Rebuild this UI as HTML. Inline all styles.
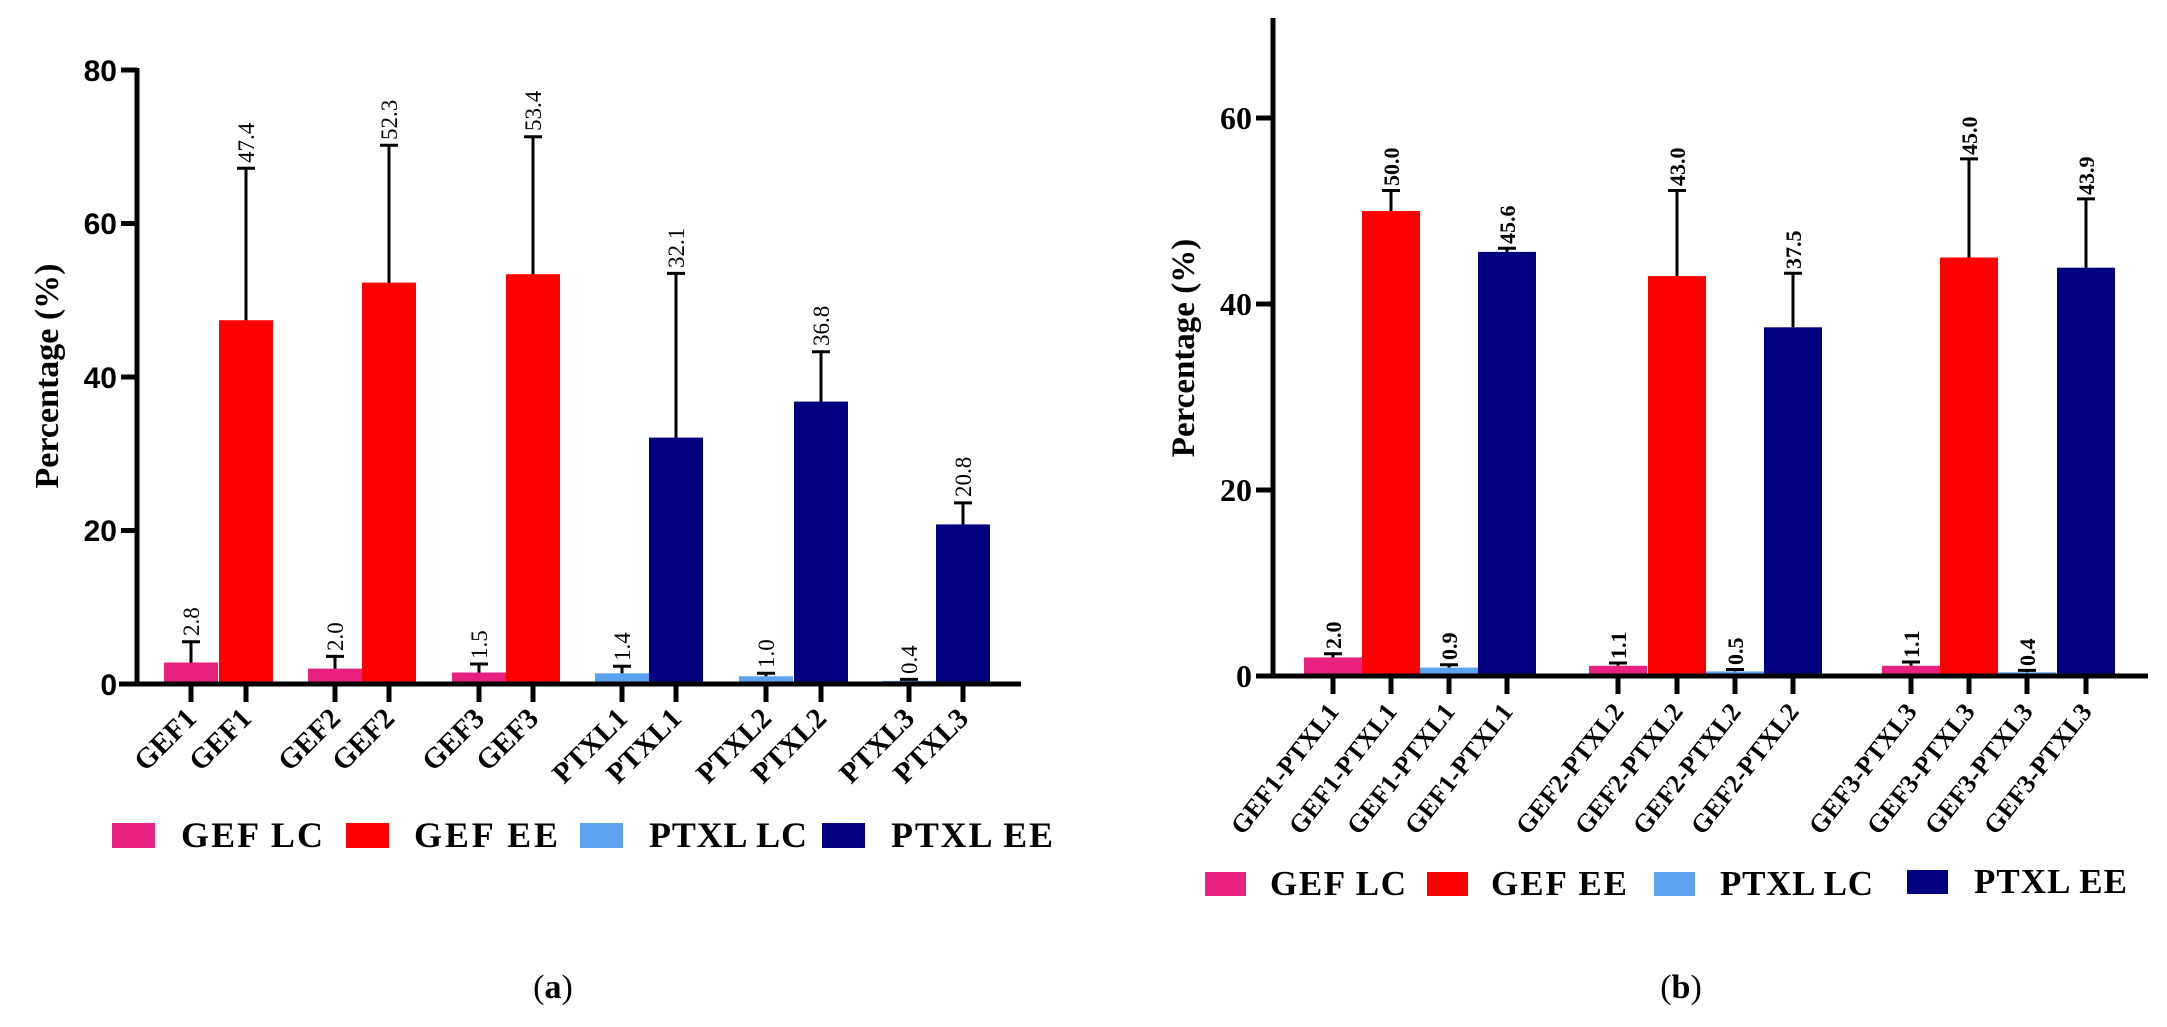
<!DOCTYPE html>
<html><head><meta charset="utf-8"><style>
html,body{margin:0;padding:0;background:#fff;}
svg{display:block;}
text{font-family:"Liberation Serif",serif;}
text.sans{font-family:"Liberation Sans",sans-serif;}
</style></head><body>
<svg width="2167" height="1027" viewBox="0 0 2167 1027" xmlns="http://www.w3.org/2000/svg">
<rect width="2167" height="1027" fill="#fff"/>

<!-- ============ LEFT CHART (a) ============ -->
<g>
<rect x="164" y="662.5" width="54" height="21.5" fill="#E8207F"/>
<rect x="219" y="320.2" width="54" height="363.8" fill="#FF0000"/>
<rect x="308" y="668.6" width="54" height="15.4" fill="#E8207F"/>
<rect x="362" y="282.6" width="54" height="401.4" fill="#FF0000"/>
<rect x="452" y="672.5" width="54" height="11.5" fill="#E8207F"/>
<rect x="506" y="274.2" width="54" height="409.8" fill="#FF0000"/>
<rect x="595" y="673.3" width="54" height="10.7" fill="#5BA3EE"/>
<rect x="649" y="437.6" width="54" height="246.4" fill="#000080"/>
<rect x="739" y="676.3" width="54" height="7.7" fill="#5BA3EE"/>
<rect x="794" y="401.6" width="54" height="282.4" fill="#000080"/>
<rect x="882" y="680.9" width="54" height="3.1" fill="#5BA3EE"/>
<rect x="936" y="524.4" width="54" height="159.6" fill="#000080"/>
<g stroke="#000" stroke-width="3" fill="none">
<path d="M191 662.5V641.8M182 641.8H200"/>
<path d="M246 320.2V168.2M237 168.2H255"/>
<path d="M335 668.6V656.4M326 656.4H344"/>
<path d="M389 282.6V145.2M380 145.2H398"/>
<path d="M479 672.5V664M470 664H488"/>
<path d="M533 274.2V136.8M524 136.8H542"/>
<path d="M622 673.3V666.3M613 666.3H631"/>
<path d="M676 437.6V273.4M667 273.4H685"/>
<path d="M766 676.3V673.3M757 673.3H775"/>
<path d="M821 401.6V351.7M812 351.7H830"/>
<path d="M909 680.9V679.4M900 679.4H918"/>
<path d="M963 524.4V502.9M954 502.9H972"/>
</g>
<g font-size="23" fill="#000">
<text transform="translate(199,636) rotate(-90)">2.8</text>
<text transform="translate(254,163) rotate(-90)">47.4</text>
<text transform="translate(343,651) rotate(-90)">2.0</text>
<text transform="translate(397,140) rotate(-90)">52.3</text>
<text transform="translate(487,659) rotate(-90)">1.5</text>
<text transform="translate(541,131) rotate(-90)">53.4</text>
<text transform="translate(630,661) rotate(-90)">1.4</text>
<text transform="translate(684,268) rotate(-90)">32.1</text>
<text transform="translate(774,668) rotate(-90)">1.0</text>
<text transform="translate(829,346) rotate(-90)">36.8</text>
<text transform="translate(917,674) rotate(-90)">0.4</text>
<text transform="translate(971,497) rotate(-90)">20.8</text>
</g>
<g stroke="#000" stroke-width="5" fill="none">
<path d="M137 68V686"/>
<path d="M119 684H1021"/>
<path d="M121 70H137M121 223.5H137M121 377H137M121 530.5H137M121 684H137"/>
<path d="M191 684V702M246 684V702M335 684V702M389 684V702M479 684V702M533 684V702M622 684V702M676 684V702M766 684V702M821 684V702M909 684V702M963 684V702"/>
</g>
<g font-weight="bold" font-size="30" text-anchor="end" fill="#000">
<text class="sans" x="117" y="81">80</text>
<text class="sans" x="117" y="234">60</text>
<text class="sans" x="117" y="388">40</text>
<text class="sans" x="117" y="541">20</text>
<text class="sans" x="117" y="695">0</text>
</g>
<text transform="translate(58,376) rotate(-90)" font-size="34" font-weight="bold" text-anchor="middle">Percentage (%)</text>
<g font-size="29" font-weight="bold" text-anchor="end">
<text transform="translate(198,720) rotate(-45)">GEF1</text>
<text transform="translate(253,720) rotate(-45)">GEF1</text>
<text transform="translate(342,720) rotate(-45)">GEF2</text>
<text transform="translate(396,720) rotate(-45)">GEF2</text>
<text transform="translate(486,720) rotate(-45)">GEF3</text>
<text transform="translate(540,720) rotate(-45)">GEF3</text>
<text transform="translate(629,720) rotate(-45)">PTXL1</text>
<text transform="translate(683,720) rotate(-45)">PTXL1</text>
<text transform="translate(773,720) rotate(-45)">PTXL2</text>
<text transform="translate(828,720) rotate(-45)">PTXL2</text>
<text transform="translate(916,720) rotate(-45)">PTXL3</text>
<text transform="translate(970,720) rotate(-45)">PTXL3</text>
</g>
<rect x="112" y="823" width="43" height="25" fill="#E8207F"/>
<rect x="346" y="823" width="43" height="25" fill="#FF0000"/>
<rect x="580" y="823" width="43" height="25" fill="#5BA3EE"/>
<rect x="822" y="823" width="43" height="25" fill="#000080"/>
<g font-size="36" font-weight="bold">
<text x="181" y="847" textLength="142">GEF LC</text>
<text x="414" y="847" textLength="144">GEF EE</text>
<text x="649" y="847" textLength="158">PTXL LC</text>
<text x="891" y="847" textLength="162">PTXL EE</text>
</g>
<text x="553" y="998" font-size="34" text-anchor="middle">(<tspan font-weight="bold">a</tspan>)</text>
</g>

<!-- ============ RIGHT CHART (b) ============ -->
<g>
<rect x="1304" y="657.4" width="58" height="18.6" fill="#E8207F"/>
<rect x="1362" y="211" width="58" height="465" fill="#FF0000"/>
<rect x="1420" y="667.6" width="58" height="8.4" fill="#5BA3EE"/>
<rect x="1478" y="251.9" width="58" height="424.1" fill="#000080"/>
<rect x="1589" y="665.8" width="58" height="10.2" fill="#E8207F"/>
<rect x="1648" y="276.1" width="58" height="399.9" fill="#FF0000"/>
<rect x="1706" y="671.4" width="58" height="4.6" fill="#5BA3EE"/>
<rect x="1764" y="327.3" width="58" height="348.7" fill="#000080"/>
<rect x="1882" y="665.8" width="58" height="10.2" fill="#E8207F"/>
<rect x="1940" y="257.5" width="58" height="418.5" fill="#FF0000"/>
<rect x="1998" y="672.3" width="58" height="3.7" fill="#5BA3EE"/>
<rect x="2057" y="267.7" width="58" height="408.3" fill="#000080"/>
<g stroke="#000" stroke-width="3" fill="none">
<path d="M1333 657.4V653.7M1324 653.7H1342"/>
<path d="M1391 211V190.5M1382 190.5H1400"/>
<path d="M1449 667.6V664.8M1440 664.8H1458"/>
<path d="M1507 251.9V248.2M1498 248.2H1516"/>
<path d="M1618 665.8V663M1609 663H1627"/>
<path d="M1677 276.1V190.5M1668 190.5H1686"/>
<path d="M1735 671.4V669.5M1726 669.5H1744"/>
<path d="M1793 327.3V273.3M1784 273.3H1802"/>
<path d="M1911 665.8V662M1902 662H1920"/>
<path d="M1969 257.5V158.9M1960 158.9H1978"/>
<path d="M2027 672.3V670.4M2018 670.4H2036"/>
<path d="M2086 267.7V198.9M2077 198.9H2095"/>
</g>
<g font-size="22" font-weight="bold">
<text transform="translate(1341,649) rotate(-90)">2.0</text>
<text transform="translate(1399,186) rotate(-90)">50.0</text>
<text transform="translate(1457,660) rotate(-90)">0.9</text>
<text transform="translate(1515,244) rotate(-90)">45.6</text>
<text transform="translate(1626,659) rotate(-90)">1.1</text>
<text transform="translate(1685,186) rotate(-90)">43.0</text>
<text transform="translate(1743,665) rotate(-90)">0.5</text>
<text transform="translate(1801,269) rotate(-90)">37.5</text>
<text transform="translate(1919,658) rotate(-90)">1.1</text>
<text transform="translate(1977,155) rotate(-90)">45.0</text>
<text transform="translate(2035,666) rotate(-90)">0.4</text>
<text transform="translate(2094,195) rotate(-90)">43.9</text>
</g>
<g stroke="#000" stroke-width="5" fill="none">
<path d="M1273 18V678"/>
<path d="M1256 676H2148"/>
<path d="M1256 118H1273M1256 304H1273M1256 490H1273M1256 676H1273"/>
<path d="M1333 676V694M1391 676V694M1449 676V694M1507 676V694M1618 676V694M1677 676V694M1735 676V694M1793 676V694M1911 676V694M1969 676V694M2027 676V694M2086 676V694"/>
</g>
<g font-size="32" font-weight="bold" text-anchor="end">
<text x="1252" y="129">60</text>
<text x="1252" y="315">40</text>
<text x="1252" y="501">20</text>
<text x="1252" y="687">0</text>
</g>
<text transform="translate(1194,348) rotate(-90)" font-size="33" font-weight="bold" text-anchor="middle">Percentage (%)</text>
<g font-size="26" font-weight="bold" text-anchor="end">
<text transform="translate(1340,712) rotate(-52)">GEF1-PTXL1</text>
<text transform="translate(1398,712) rotate(-52)">GEF1-PTXL1</text>
<text transform="translate(1456,712) rotate(-52)">GEF1-PTXL1</text>
<text transform="translate(1514,712) rotate(-52)">GEF1-PTXL1</text>
<text transform="translate(1625,712) rotate(-52)">GEF2-PTXL2</text>
<text transform="translate(1684,712) rotate(-52)">GEF2-PTXL2</text>
<text transform="translate(1742,712) rotate(-52)">GEF2-PTXL2</text>
<text transform="translate(1800,712) rotate(-52)">GEF2-PTXL2</text>
<text transform="translate(1918,712) rotate(-52)">GEF3-PTXL3</text>
<text transform="translate(1976,712) rotate(-52)">GEF3-PTXL3</text>
<text transform="translate(2034,712) rotate(-52)">GEF3-PTXL3</text>
<text transform="translate(2093,712) rotate(-52)">GEF3-PTXL3</text>
</g>
<rect x="1205" y="872" width="41" height="24" fill="#E8207F"/>
<rect x="1427" y="872" width="41" height="24" fill="#FF0000"/>
<rect x="1654" y="872" width="41" height="24" fill="#5BA3EE"/>
<rect x="1907" y="870" width="41" height="24" fill="#000080"/>
<g font-size="35" font-weight="bold">
<text x="1270" y="895" textLength="136">GEF LC</text>
<text x="1491" y="895" textLength="136">GEF EE</text>
<text x="1720" y="895" textLength="153">PTXL LC</text>
<text x="1974" y="893" textLength="153">PTXL EE</text>
</g>
<text x="1681" y="998" font-size="34" text-anchor="middle">(<tspan font-weight="bold">b</tspan>)</text>
</g>
</svg>
</body></html>
